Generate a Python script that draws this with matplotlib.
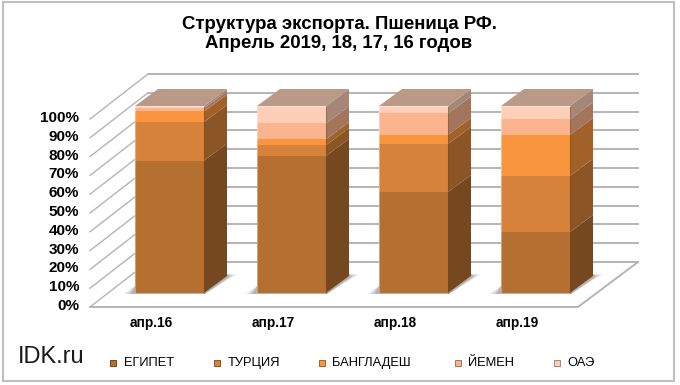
import matplotlib
matplotlib.use("Agg")
import numpy as np
import matplotlib.pyplot as plt
from matplotlib.patches import Polygon, Rectangle

plt.rcParams['font.family'] = ['Liberation Sans', 'DejaVu Sans']

# ----------------------------
# data
# ----------------------------

categories = ["апр.16", "апр.17", "апр.18", "апр.19"]
series_names = ["ЕГИПЕТ", "ТУРЦИЯ", "БАНГЛАДЕШ", "ЙЕМЕН", "ОАЭ"]
egypt = [70.8, 73.3, 54.0, 32.6]
turkey = [20.6, 5.8, 25.7, 30.0]
bangladesh = [5.7, 3.1, 4.8, 21.9]
yemen = [1.7, 8.5, 11.5, 8.4]
uae = [1.2, 9.3, 4.0, 7.1]
tick_values = [0, 10, 20, 30, 40, 50, 60, 70, 80, 90, 100]

colors = ["#B56F30", "#D7823A", "#F9953F", "#FBB48D", "#FDCFB8"]
GRID = "#B4B4B4"

# ----------------------------
# scales: the axes fill the figure, one category = 122 px, 1% = 1.87 px
# ----------------------------

W, H = 680, 385
PX_CAT = 122.0
PX_PCT = 1.87
X0, Y0 = 169.5, 293.0  # centre of the first bar, base of the bars


def px(x):
    return (x - X0) / PX_CAT


def py(y):
    return (Y0 - y) / PX_PCT


def shade(color, k):
    rgb = np.array(matplotlib.colors.to_rgb(color)) * k
    return tuple(rgb)


def main():
    fig = plt.figure(figsize=(W / 100, H / 100), dpi=100)
    ax = fig.add_axes([0, 0, 1, 1])
    ax.set_xlim(px(0), px(W))
    ax.set_ylim(py(H), py(0))
    ax.axis("off")

    # outer frame
    ax.add_patch(Rectangle((px(3), py(381)), px(674) - px(3), py(1.5) - py(381),
                           fc="white", ec="#BFBFBF", lw=1.5, zorder=0))

    # walls and floor
    for v in tick_values:
        yf = 307 - 1.88 * v
        ax.plot([px(90), px(148)], [py(yf), py(yf - 45)], color=GRID, lw=1.0, zorder=1)
        ax.plot([px(148), px(638)], [py(yf - 45), py(yf - 45)], color=GRID, lw=1.4, zorder=1)
        ax.text(px(79), py(yf - 1), f"{v}%", ha="right", va="center",
                fontsize=11, fontweight="bold", color="black")
    ax.plot([px(90), px(578), px(638)], [py(307), py(307), py(262)], color=GRID, lw=1.4, zorder=1)

    # stacked bars
    series = [egypt, turkey, bangladesh, yemen, uae]
    x = np.arange(len(categories))
    width = 69 / PX_CAT
    dx, dy = 23 / PX_CAT, 17 / PX_PCT

    for i in x:
        # soft shadow on the floor, darker near the bar
        left = i - width / 2
        right = i + width / 2
        for grow, alpha in [(0, 0.12), (-3, 0.16), (-6, 0.2), (-8, 0.2)]:
            ax.add_patch(Polygon([(left - (12 + grow) / PX_CAT, py(294)),
                                  (right + 1 / PX_CAT, py(294)),
                                  (right + (33 + grow) / PX_CAT, py(274 - grow / 3)),
                                  (right + 23 / PX_CAT, py(274)),
                                  (left, py(286))],
                                 fc="#707070", ec="none", alpha=alpha, zorder=2))

    bottom = np.zeros(len(categories))
    for name, vals, c in zip(series_names, series, colors):
        vals = np.array(vals)
        ax.bar(x, vals, width=width, bottom=bottom, color=c, ec="none", zorder=4)
        for i in x:
            r = i + width / 2
            y0, y1 = bottom[i], bottom[i] + vals[i]
            ax.add_patch(Polygon([(r, y0), (r + dx, y0 + dy), (r + dx, y1 + dy), (r, y1)],
                                 fc=shade(c, 0.65), ec="none", zorder=3))
        bottom = bottom + vals

    for i in x:
        l, r = i - width / 2, i + width / 2
        top = bottom[i]
        ax.add_patch(Polygon([(l, top), (r, top), (r + dx, top + dy), (l + dx, top + dy)],
                             fc=shade(colors[-1], 0.74), ec="none", zorder=3))
        ax.plot([l, l], [0, top], color="white", alpha=0.35, lw=0.8, zorder=5)
        ax.plot([r, r], [0, top], color="#7A4A20", alpha=0.35, lw=0.8, zorder=5)
        ax.plot([l, r], [top, top], color="white", alpha=0.4, lw=0.8, zorder=5)
        ax.text(px(151 + 122 * i), py(323), categories[i], ha="center", va="center",
                fontsize=9.8, fontweight="bold", color="black")

    # legend
    marker_x = [113, 217, 322, 458, 557]
    text_x = [124, 228, 332, 468, 567]
    for name, c, mx, tx in zip(series_names, colors, marker_x, text_x):
        ax.scatter([px(mx)], [py(363)], marker="s", s=24, color=c,
                   edgecolors=shade(c, 0.65), linewidths=0.7, zorder=5)
        ax.text(px(tx), py(363), name, ha="left", va="center", fontsize=9.3, color="black")

    ax.text(px(18), py(357), "IDK.ru", ha="left", va="center", fontsize=17, color="#1A1A1A")
    ax.text(px(339), py(34), "Структура экспорта. Пшеница РФ.\nАпрель 2019, 18, 17, 16 годов",
            ha="center", va="center", fontsize=13.4, fontweight="bold", color="black",
            linespacing=1.2)

    fig.savefig("out.png", dpi=100)


if __name__ == "__main__":
    main()
